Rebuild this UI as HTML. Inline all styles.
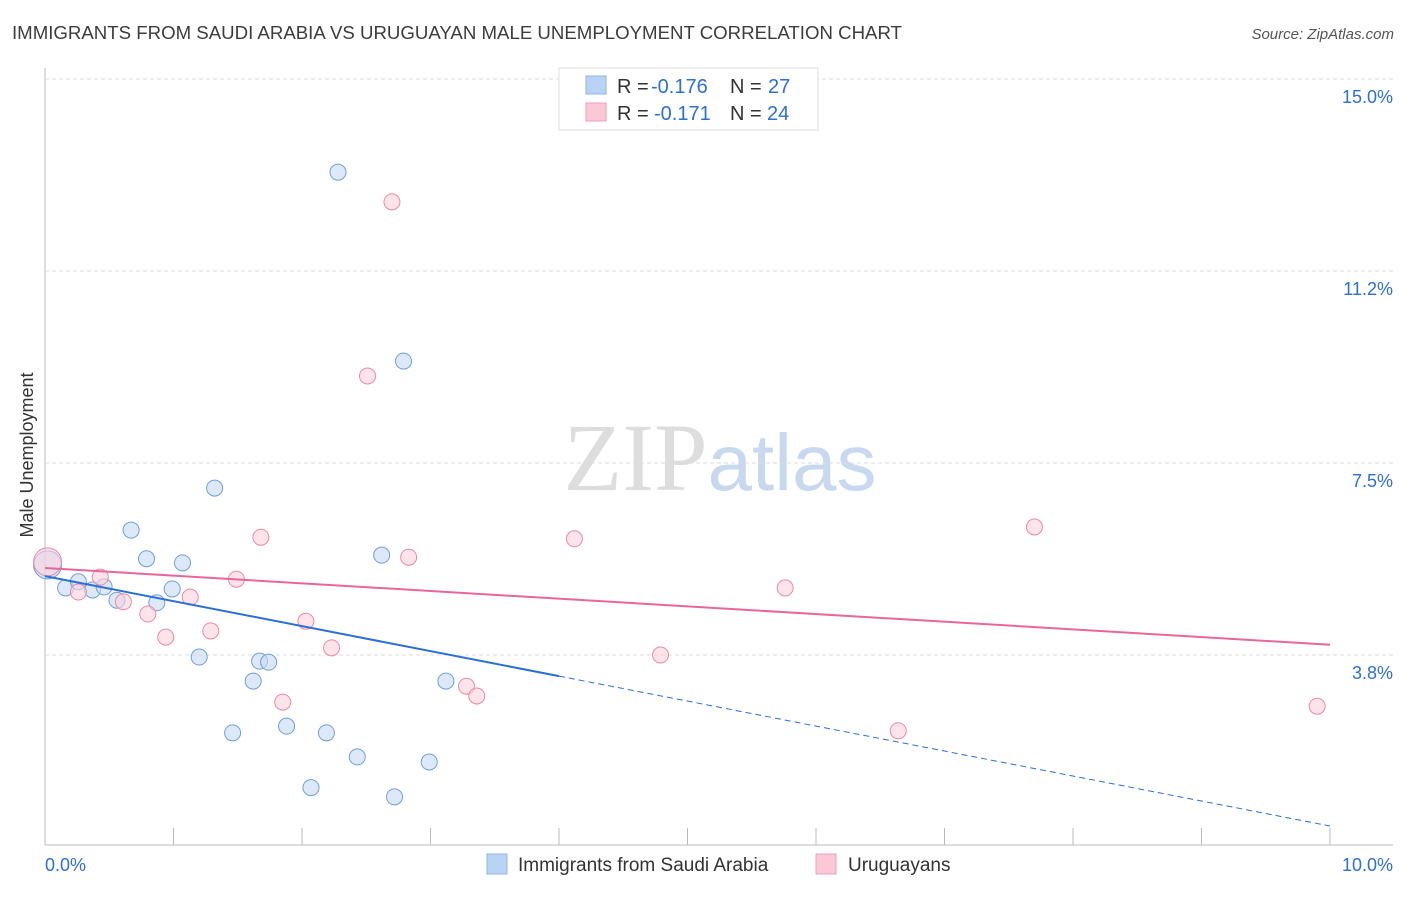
<!DOCTYPE html>
<html><head><meta charset="utf-8"><style>
body{margin:0;background:#fff;font-family:"Liberation Sans",sans-serif;}
svg text{font-family:"Liberation Sans",sans-serif;}
</style></head><body>
<svg id="chart" width="1406" height="892" xmlns="http://www.w3.org/2000/svg">
<text x="12" y="39" font-size="18" fill="#3c3c3c" textLength="890" lengthAdjust="spacingAndGlyphs">IMMIGRANTS FROM SAUDI ARABIA VS URUGUAYAN MALE UNEMPLOYMENT CORRELATION CHART</text>
<text x="1394" y="39" font-size="15" fill="#555" text-anchor="end" font-style="italic">Source: ZipAtlas.com</text>
<text x="720" y="490" font-size="96" text-anchor="middle"><tspan fill="#ddd" font-family="Liberation Serif">ZIP</tspan><tspan fill="#c8d9ef" font-size="80">atlas</tspan></text>
<text transform="translate(33,455) rotate(-90)" font-size="18" fill="#333" text-anchor="middle">Male Unemployment</text>
<g id="grid"></g><g id="marks"></g>
<g>
<rect x="559" y="68" width="259" height="62" fill="#fff" stroke="#ddd"/>
<rect x="586" y="76" width="20" height="18" fill="#b9d3f5" stroke="#8fb5e8"/>
<rect x="586" y="103" width="20" height="18" fill="#fac8d6" stroke="#f0a0b8"/>
<text x="617" y="93" font-size="20" fill="#333">R =</text>
<text x="651" y="93" font-size="20" fill="#2f6fd0">-0.176</text>
<text x="730" y="93" font-size="20" fill="#333">N =</text>
<text x="768" y="93" font-size="20" fill="#2f6fd0">27</text>
<text x="617" y="120" font-size="20" fill="#333">R =</text>
<text x="654" y="120" font-size="20" fill="#2f6fd0">-0.171</text>
<text x="730" y="120" font-size="20" fill="#333">N =</text>
<text x="767" y="120" font-size="20" fill="#2f6fd0">24</text>
</g>
<g>
<rect x="487" y="854" width="20" height="20" fill="#b9d3f5" stroke="#8fb5e8"/>
<text x="518" y="871" font-size="19" fill="#333">Immigrants from Saudi Arabia</text>
<rect x="816" y="854" width="20" height="20" fill="#fac8d6" stroke="#f0a0b8"/>
<text x="848" y="871" font-size="19" fill="#333">Uruguayans</text>
</g>
</svg>
<script>
const yTicks=[3.75,7.5,11.25,15.0];
const yTickLabels=["3.8%","7.5%","11.2%","15.0%"];
const xTickLabels=["0.0%","10.0%"];
const blueX=[0.02,0.16,0.26,0.37,0.46,0.56,0.67,0.79,0.87,0.99,1.07,1.20,1.32,1.46,1.62,1.67,1.74,1.88,2.07,2.19,2.28,2.43,2.62,2.72,2.79,2.99,3.12];
const blueY=[5.51,5.06,5.18,5.02,5.08,4.82,6.19,5.63,4.77,5.04,5.55,3.71,7.01,2.23,3.24,3.63,3.61,2.36,1.16,2.23,13.18,1.76,5.70,0.98,9.49,1.66,3.24];
const pinkX=[0.02,0.26,0.43,0.61,0.80,0.94,1.13,1.29,1.49,1.68,1.85,2.03,2.23,2.51,2.70,2.83,3.28,3.36,4.12,4.79,5.76,6.64,7.70,9.90];
const pinkY=[5.57,4.98,5.27,4.79,4.55,4.10,4.88,4.22,5.23,6.05,2.83,4.41,3.89,9.20,12.60,5.66,3.14,2.95,6.02,3.75,5.06,2.27,6.25,2.75];
const blueTrend=[5.29,0.41]; const blueSolidEnd=4.0;
const pinkTrend=[5.45,3.95];
const NS="http://www.w3.org/2000/svg";
const xs=v=>45+v*128.5, ys=v=>655-(v-3.75)*51.2;
function mk(t,a,p){const e=document.createElementNS(NS,t);for(const k in a)e.setAttribute(k,a[k]);p.appendChild(e);return e;}
const g=document.getElementById('grid'),m=document.getElementById('marks');
let ax=mk('line',{x1:45,y1:68,x2:45,y2:845,stroke:'#bbb'},g);

let bx=mk('line',{x1:45,y1:845,x2:1393,y2:845,stroke:'#bbb'},g);

for(let i=1;i<=10;i++){let t=mk('line',{x1:45+i*128.5,y1:828,x2:45+i*128.5,y2:845,stroke:'#bbb'},g);
}
yTicks.forEach((v,i)=>{let l=mk('line',{x1:45,x2:1393,y1:ys(v),y2:ys(v),stroke:'#ddd','stroke-dasharray':'4,3'},g);

let t=mk('text',{x:1393,y:ys(v)+24,'font-size':18,fill:'#2f6fd0','text-anchor':'end'},g);t.textContent=yTickLabels[i];
});
xTickLabels.forEach((s,i)=>{let t=mk('text',{x:i?1393:45,y:871,'font-size':18,fill:'#2f6fd0','text-anchor':i?'end':'start'},g);t.textContent=s;
});
function pts(X,Y,fill,stroke,name){X.forEach((x,i)=>{let c=mk('circle',{cx:xs(x),cy:ys(Y[i]),r:i==0?14:8,fill:fill,'fill-opacity':0.6,stroke:stroke,'stroke-width':1},m);
});}
pts(blueX,blueY,'#c6dbf5','#6f9fdc','blue-point');
pts(pinkX,pinkY,'#fbd0dc','#e88aa8','pink-point');
const by=x=>blueTrend[0]+(blueTrend[1]-blueTrend[0])*x/10;
let l1=mk('line',{x1:xs(0),y1:ys(by(0)),x2:xs(blueSolidEnd),y2:ys(by(blueSolidEnd)),stroke:'#2a6fd6','stroke-width':2},m);

let l2=mk('line',{x1:xs(blueSolidEnd),y1:ys(by(blueSolidEnd)),x2:xs(10),y2:ys(by(10)),stroke:'#2a6fd6','stroke-width':1,'stroke-dasharray':'6,4'},m);

let l3=mk('line',{x1:xs(0),y1:ys(pinkTrend[0]),x2:xs(10),y2:ys(pinkTrend[1]),stroke:'#e8679a','stroke-width':2},m);

</script>
</body></html>
